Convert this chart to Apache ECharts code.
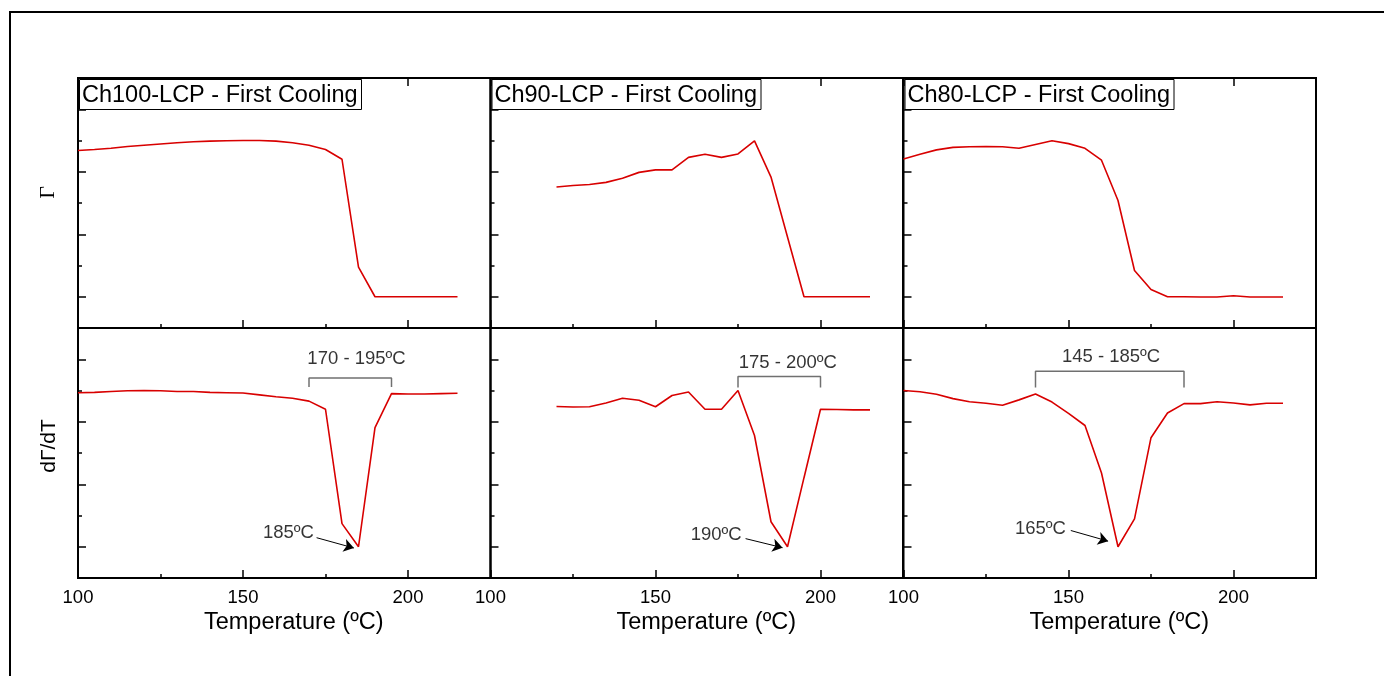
<!DOCTYPE html>
<html><head><meta charset="utf-8">
<script src="https://cdn.jsdelivr.net/npm/echarts@6/dist/echarts.min.js"></script>
<style>html,body{margin:0;padding:0;background:#fff}#c{width:1384px;height:676px}</style>
</head><body><div id="c"></div>
<script>
// ---------- data ----------
const panelTitles = ['Ch100-LCP - First Cooling', 'Ch90-LCP - First Cooling', 'Ch80-LCP - First Cooling'];
const xTickLabels = [100, 150, 200];
const xLabel = 'Temperature (ºC)';
const yLabelTop = 'Γ';
const yLabelBottom = 'dΓ/dT';

const tempCh100 = [100,105,110,115,120,125,130,135,140,145,150,155,160,165,170,175,180,185,190,195,200,205,210,215];
const gammaCh100 = [5.68,5.71,5.75,5.81,5.85,5.89,5.93,5.96,5.98,5.99,6.0,6.0,5.98,5.93,5.85,5.71,5.40,1.95,1.0,1.0,1.0,1.0,1.0,1.0];
const dGammaCh100 = [5.93,5.94,5.97,5.99,6.0,5.99,5.97,5.97,5.94,5.93,5.92,5.86,5.80,5.75,5.66,5.40,1.74,1.0,4.81,5.90,5.89,5.89,5.90,5.91];

const tempCh90 = [120,125,130,135,140,145,150,155,160,165,170,175,180,185,190,195,200,205,210,215];
const gammaCh90 = [4.51,4.56,4.59,4.66,4.79,4.98,5.06,5.06,5.46,5.56,5.46,5.57,5.99,4.83,2.91,1.0,1.0,1.0,1.0,1.0];
const dGammaCh90 = [5.49,5.47,5.48,5.60,5.75,5.69,5.48,5.84,5.95,5.40,5.40,6.0,4.56,1.80,1.0,3.21,5.40,5.39,5.38,5.38];

const tempCh80 = [100,105,110,115,120,125,130,135,140,145,150,155,160,165,170,175,180,185,190,195,200,205,210,215];
const gammaCh80 = [5.41,5.56,5.70,5.78,5.80,5.81,5.80,5.75,5.87,5.99,5.90,5.75,5.37,4.08,1.84,1.23,1.0,1.0,0.99,0.99,1.03,0.99,0.99,0.99];
const dGammaCh80 = [6.0,5.96,5.88,5.74,5.64,5.59,5.53,5.70,5.89,5.63,5.27,4.88,3.36,1.0,1.89,4.49,5.28,5.58,5.58,5.64,5.60,5.54,5.59,5.59];

// annotations (data coordinates)
const rangeTexts = ['170 - 195ºC', '175 - 200ºC', '145 - 185ºC'];
const rangeStart = [170, 175, 140];
const rangeEnd = [195, 200, 185];
const rangeTop = [6.4, 6.45, 6.62];
const rangeFoot = [6.11, 6.1, 6.1];
const rangeTextPos = [[184.4, 7.0], [190.1, 6.88], [162.9, 7.07]];
const peakTexts = ['185ºC', '190ºC', '165ºC'];
const peakTextPos = [[171.5, 1.45], [176.1, 1.37], [149.2, 1.56]];
const arrowFrom = [[172.3, 1.29], [177.3, 1.26], [150.7, 1.52]];
const arrowTo = [[183.6, 0.96], [188.5, 0.97], [162.0, 1.18]];

// ---------- layout ----------
const colLeft = [78, 490.5, 903.5];
const colWidth = 412.5;
const rowTop = [78, 328];
const rowHeight = 250;
const FONT = 'Liberation Sans, Arial, sans-serif';
const RED = '#d80000';

const temps = [tempCh100, tempCh90, tempCh80];
const gammas = [gammaCh100, gammaCh90, gammaCh80];
const dGammas = [dGammaCh100, dGammaCh90, dGammaCh80];

const grid = [], xAxis = [], yAxis = [], series = [], title = [];

for (let r = 0; r < 2; r++) {
  for (let c = 0; c < 3; c++) {
    const g = r * 3 + c;
    grid.push({left: colLeft[c], top: rowTop[r], width: colWidth, height: rowHeight,
      show: true, borderColor: '#000', borderWidth: 2, backgroundColor: 'transparent', containLabel: false});
    const xMain = xAxis.length;
    xAxis.push({
      type: 'value', gridIndex: g, position: 'bottom', min: 100, max: 225, interval: 25,
      axisLine: {show: false},
      axisTick: {show: true, inside: true, length: 4, lineStyle: {color: '#000', width: 1.5}},
      splitLine: {show: false},
      axisLabel: {show: r === 1, margin: 10, fontSize: 18.5, fontFamily: FONT, color: '#000',
        formatter: v => (xTickLabels.indexOf(v) >= 0 ? String(v) : '')},
      name: r === 1 ? xLabel : '', nameLocation: 'middle', nameGap: 33,
      nameTextStyle: {fontSize: 23.5, fontFamily: FONT, color: '#000', padding: [0, 0, 0, 19]}
    });
    xAxis.push({
      type: 'value', gridIndex: g, position: 'bottom', min: 100, max: 225, interval: 50,
      axisLine: {show: false},
      axisTick: {show: true, inside: true, length: 8, lineStyle: {color: '#000', width: 1.5}},
      splitLine: {show: false}, axisLabel: {show: false}
    });
    if (r === 0) {
      xAxis.push({
        type: 'value', gridIndex: g, position: 'top', min: 100, max: 225, interval: 25,
        axisLine: {show: false},
        axisTick: {show: true, inside: true, length: 8, lineStyle: {color: '#000', width: 1.5}},
        splitLine: {show: false}, axisLabel: {show: false}
      });
    }
    yAxis.push({
      type: 'value', gridIndex: g, position: 'left', min: 0, max: 8, interval: 2,
      axisLine: {show: false},
      axisTick: {show: true, inside: true, length: 4, lineStyle: {color: '#000', width: 1.5}},
      minorTick: {show: true, splitNumber: 2, length: 8, lineStyle: {color: '#000', width: 1.5}},
      splitLine: {show: false}, minorSplitLine: {show: false}, axisLabel: {show: false}
    });
    const vals = r === 0 ? gammas[c] : dGammas[c];
    series.push({
      type: 'line', xAxisIndex: xMain, yAxisIndex: g, symbol: 'none', silent: true,
      lineStyle: {color: RED, width: 1.6}, itemStyle: {color: RED},
      data: temps[c].map((t, i) => [t, vals[i]]), z: 3
    });
    if (r === 1) {
      series.push({
        type: 'line', xAxisIndex: xMain, yAxisIndex: g, symbol: 'none', silent: true,
        lineStyle: {color: '#707070', width: 1.5}, itemStyle: {color: '#707070'},
        data: [[rangeStart[c], rangeFoot[c]], [rangeStart[c], rangeTop[c]], [rangeEnd[c], rangeTop[c]], [rangeEnd[c], rangeFoot[c]]]
      });
      series.push({
        type: 'scatter', xAxisIndex: xMain, yAxisIndex: g, symbolSize: 0, silent: true,
        data: [
          {value: rangeTextPos[c], label: {show: true, position: 'inside', formatter: rangeTexts[c]}},
          {value: peakTextPos[c], label: {show: true, position: 'left', distance: 0, formatter: peakTexts[c]}}
        ],
        label: {fontSize: 18.5, fontFamily: FONT, color: '#000'},
        markLine: {
          silent: true, animation: false, symbol: ['none', 'arrow'], symbolSize: 10,
          itemStyle: {color: '#000'},
          lineStyle: {color: '#000', width: 1, type: 'solid'}, label: {show: false},
          data: [[{coord: arrowFrom[c]}, {coord: arrowTo[c]}]]
        }
      });
    }
  }
}

for (let c = 0; c < 3; c++) {
  title.push({
    text: panelTitles[c], left: colLeft[c] + 1, top: 79,
    padding: [5, 4, 2, 3], backgroundColor: '#fff', borderColor: '#000', borderWidth: 1,
    textStyle: {fontSize: 23.5, fontFamily: FONT, fontWeight: 'normal', color: '#000'}
  });
}

const chart = echarts.init(document.getElementById('c'), null, {renderer: 'canvas'});
chart.setOption({
  animation: false,
  backgroundColor: '#fff',
  title, grid, xAxis, yAxis, series,
  graphic: [
    {type: 'rect', shape: {x: 10, y: 12, width: 1400, height: 700}, style: {fill: 'none', stroke: '#000', lineWidth: 2}, silent: true},
    {type: 'text', x: 48, y: 192.5, rotation: Math.PI / 2, silent: true,
      style: {text: yLabelTop, fontSize: 22, fontFamily: 'Liberation Serif, Times New Roman, serif', fill: '#000', align: 'center', verticalAlign: 'middle'}},
    {type: 'text', x: 49, y: 446, rotation: Math.PI / 2, silent: true,
      style: {text: yLabelBottom, fontSize: 21, fontFamily: FONT, fill: '#000', align: 'center', verticalAlign: 'middle'}}
  ]
});
</script>
</body></html>
